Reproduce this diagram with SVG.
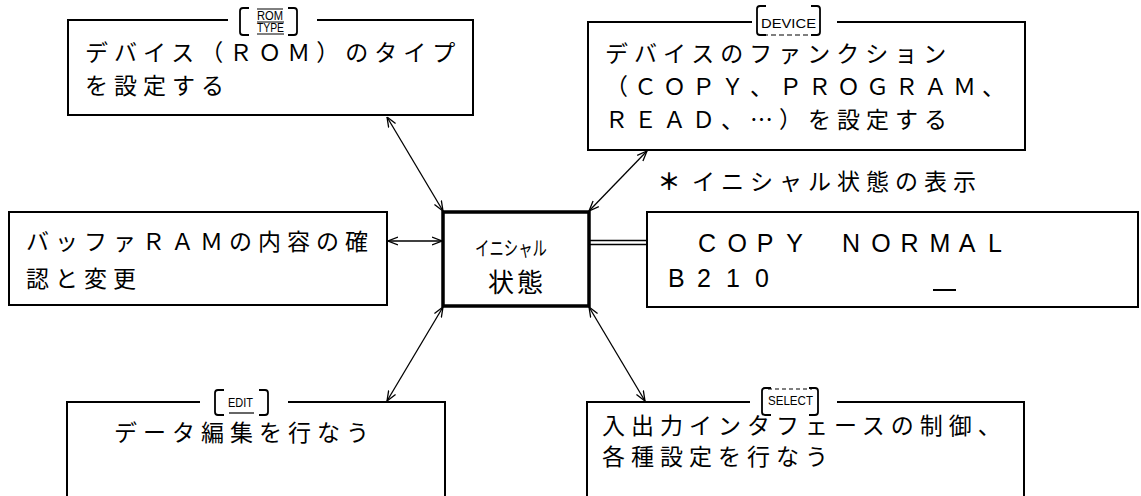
<svg xmlns="http://www.w3.org/2000/svg" width="1141" height="496" viewBox="0 0 1141 496">
<style>
.box{fill:none;stroke:#000;stroke-width:2}
.center{fill:none;stroke:#000;stroke-width:3.5}
.jp{font-family:"Noto Sans CJK JP","Noto Sans CJK SC",sans-serif;font-size:23px;letter-spacing:6px;fill:#000}
.mono{font-family:"Liberation Sans",Arial,sans-serif;font-size:25px;fill:#000}
.key{fill:none;stroke:#000;stroke-width:1.8}
.keytxt{font-family:"Liberation Sans",Arial,sans-serif;font-size:12px;fill:#000}
.conn{fill:none;stroke:#000;stroke-width:1.3}
</style>
<defs>
<marker id="ah" viewBox="0 0 10 10" refX="10" refY="5" markerWidth="10" markerHeight="10" markerUnits="userSpaceOnUse" orient="auto-start-reverse">
<path d="M0,1 L10,5 L0,9" fill="none" stroke="#000" stroke-width="1.3"/>
</marker>
</defs>
<rect width="1141" height="496" fill="#fff"/>

<g id="rom-type">
<path class="box" d="M228,20 H68 V115 H473 V20 H317"/>
<path class="key" d="M249,8 H243 Q240,8 240,11 V32 Q240,35 243,35 H249 M288,8 H294 Q297,8 297,11 V32 Q297,35 294,35 H288"/>
<line x1="257" y1="9" x2="283" y2="9" stroke="#000" stroke-width="1"/>
<line x1="257" y1="22" x2="284" y2="22" stroke="#000" stroke-width="1"/>
<line x1="257" y1="34" x2="284" y2="34" stroke="#000" stroke-width="1"/>
<text class="keytxt" x="257" y="20" font-size="11" textLength="26" lengthAdjust="spacingAndGlyphs">ROM</text>
<text class="keytxt" x="257" y="32" font-size="11" textLength="27" lengthAdjust="spacingAndGlyphs">TYPE</text>
<text class="jp" x="85" y="61" letter-spacing="7">デバイス（ＲＯＭ）のタイプ</text>
<text class="jp" x="85" y="94" letter-spacing="7">を設定する</text>
</g>

<g id="device">
<path class="box" d="M752,22 H588 V150 H1025 V22 H837"/>
<path class="key" d="M766,6 H760 Q757,6 757,9 V32 Q757,35 760,35 H766 M811,6 H817 Q820,6 820,9 V32 Q820,35 817,35 H811"/>
<line x1="763" y1="35" x2="814" y2="35" stroke="#000" stroke-width="1.2" stroke-dasharray="5,3"/>
<text class="keytxt" x="761" y="28" textLength="55" lengthAdjust="spacingAndGlyphs">DEVICE</text>
<text class="jp" x="605" y="62">デバイスのファンクション</text>
<text class="jp" x="605" y="95">（ＣＯＰＹ、ＰＲＯＧＲＡＭ、</text>
<text class="jp" x="605" y="128">ＲＥＡＤ、…）を設定する</text>
</g>

<g id="buffer-ram">
<rect class="box" x="9" y="212" width="378" height="93"/>
<text class="jp" x="26" y="250" letter-spacing="5.5">バッファＲＡＭの内容の確</text>
<text class="jp" x="26" y="287" letter-spacing="5.5">認と変更</text>
</g>

<g id="initial">
<rect class="center" x="443" y="212" width="146" height="94"/>
<text x="475" y="256" font-family="Noto Sans CJK JP, sans-serif" font-size="20" textLength="72" lengthAdjust="spacingAndGlyphs">イニシャル</text>
<text x="488" y="292" font-family="Noto Sans CJK JP, sans-serif" font-size="26" letter-spacing="3">状態</text>
</g>

<g id="display-caption">
<text class="jp" x="672" y="190" text-anchor="middle" font-weight="bold" letter-spacing="0">＊</text>
<text class="jp" x="692" y="190">イニシャル状態の表示</text>
</g>

<g id="display">
<rect class="box" x="647" y="212" width="491" height="95"/>
<text class="mono" x="698 727.4 756.8 786.2 815 842 871.2 900.4 929.6 958.8 988" y="252">COPY NORMAL</text>
<text class="mono" x="668 697 726 755" y="287">B210</text>
<line x1="933" y1="290" x2="956" y2="290" stroke="#000" stroke-width="2"/>
</g>

<g id="edit">
<path class="box" d="M200,402 H67 V497 M445,497 V402 H288"/>
<path class="key" d="M224,390 H218 Q215,390 215,393 V412 Q215,415 218,415 H224 M259,390 H265 Q268,390 268,393 V412 Q268,415 265,415 H259"/>
<line x1="229" y1="413" x2="254" y2="413" stroke="#000" stroke-width="1.2"/>
<text class="keytxt" x="228" y="407" font-size="13" textLength="25" lengthAdjust="spacingAndGlyphs">EDIT</text>
<text class="jp" x="114" y="441">データ編集を行なう</text>
</g>

<g id="select">
<path class="box" d="M750,402 H587 V497 M1024,497 V402 H837"/>
<path class="key" d="M771,388 H765 Q762,388 762,391 V412 Q762,415 765,415 H771 M809,388 H815 Q818,388 818,391 V412 Q818,415 815,415 H809"/>
<line x1="768" y1="389" x2="812" y2="389" stroke="#000" stroke-width="1.2" stroke-dasharray="4,3"/>
<text class="keytxt" x="768" y="405" font-size="11" textLength="45" lengthAdjust="spacingAndGlyphs">SELECT</text>
<text class="jp" x="602" y="434" font-size="22" letter-spacing="7">入出力インタフェースの制御、</text>
<text class="jp" x="602" y="465" font-size="22" letter-spacing="7">各種設定を行なう</text>
</g>

<g id="connectors">
<line class="conn" x1="387" y1="117" x2="443" y2="211" marker-start="url(#ah)" marker-end="url(#ah)"/>
<line class="conn" x1="647" y1="151" x2="589" y2="211" marker-start="url(#ah)" marker-end="url(#ah)"/>
<line class="conn" x1="388" y1="241" x2="442" y2="241" marker-start="url(#ah)" marker-end="url(#ah)"/>
<line class="conn" x1="443" y1="307" x2="387" y2="401" marker-start="url(#ah)" marker-end="url(#ah)"/>
<line class="conn" x1="589" y1="307" x2="645" y2="401" marker-start="url(#ah)" marker-end="url(#ah)"/>
<line x1="590" y1="240.5" x2="647" y2="240.5" stroke="#000" stroke-width="1.5"/>
<line x1="590" y1="244.5" x2="647" y2="244.5" stroke="#000" stroke-width="1.5"/>
</g>
</svg>
